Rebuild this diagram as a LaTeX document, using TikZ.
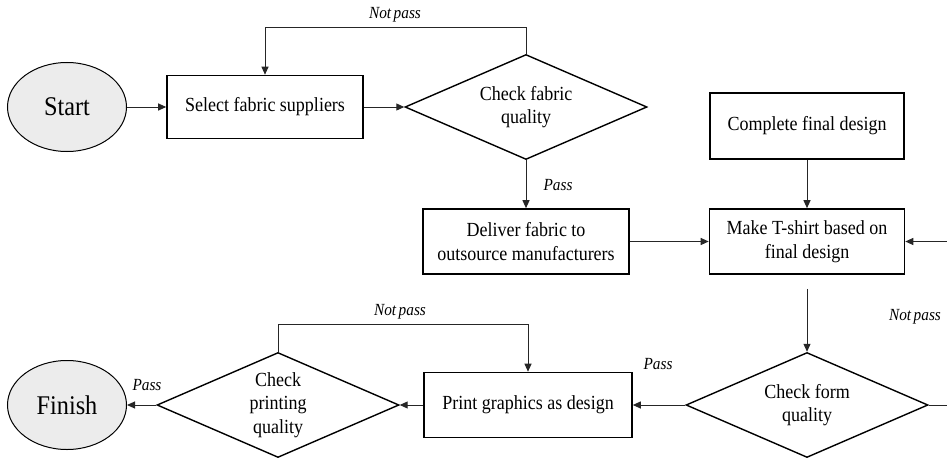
\documentclass[tikz,border=0pt]{standalone}
\usepackage{fontspec}
\setmainfont{Liberation Serif}
\newfontfamily\boxfont[FakeStretch=0.9]{Liberation Serif}
\usetikzlibrary{shapes.geometric,arrows.meta}
\begin{document}
\begin{tikzpicture}[x=1pt,y=-1pt,
  box/.style={draw, line width=1.6pt, inner sep=0pt, align=center, font=\boxfont\fontsize{20}{24}\selectfont},
  term/.style={ellipse, draw, line width=1pt, fill=gray!15, minimum width=119pt, minimum height=89pt, inner sep=0pt, font=\boxfont\fontsize{27}{30}\selectfont},
  dec/.style={diamond, draw, line width=1.4pt, aspect=2.3, minimum width=242pt, minimum height=105pt, inner sep=0pt, align=center, font=\boxfont\fontsize{20}{23.5}\selectfont},
  conn/.style={draw=black!85, line width=1pt, -{Triangle[length=8pt,width=7pt]}},
  lbl/.style={font=\boxfont\fontsize{17}{19}\selectfont\itshape, inner sep=0pt}]
\useasboundingbox (0,0) rectangle (947,460);
\clip (0,0) rectangle (947,460);

\node[term] (start) at (67,107) {Start};
\node[box, minimum width=196pt, minimum height=63pt] (select) at (265,107) {Select fabric suppliers};
\node[dec] (fab) at (526,107) {Check fabric\\quality};
\node[box, minimum width=206pt, minimum height=65pt] (deliver) at (526,241.5) {Deliver fabric to\\outsource manufacturers};
\node[box, minimum width=194pt, minimum height=66pt] (design) at (807,126) {Complete final design};
\node[box, minimum width=195pt, minimum height=65pt] (make) at (807,241.5) {Make T-shirt based on\\final design};
\node[dec] (form) at (807,405) {Check form\\quality};
\node[box, minimum width=208pt, minimum height=65pt] (print) at (528,405) {Print graphics as design};
\node[dec] (pq) at (278,405) {Check\\printing\\quality};
\node[term] (finish) at (67,405) {Finish};

\draw[conn] (start) -- (select);
\draw[conn] (select) -- (fab);
\draw[conn] (fab.north) -- ++(0,-26) -| (select.north);
\draw[conn] (fab.south) -- (deliver.north);
\draw[conn] (deliver) -- (make);
\draw[conn] (design) -- (make);
\draw[conn, shorten <=14pt] (make) -- (form);
\draw[conn] (form) -- (print);
\draw[conn] (print) -- (pq);
\draw[conn] (pq) -- (finish);
\draw[conn] (pq.north) -- ++(0,-27) -| (print.north);
\coordinate (rloop) at (965,320);
\draw[conn] (form.east) -| (rloop) |- (make.east);

\node[lbl] (np1) at (395,15) {Not\hspace{0.15em}pass};
\node[lbl] (p1) at (558,185) {Pass};
\node[lbl] (np2) at (915,317) {Not\hspace{0.15em}pass};
\node[lbl] (p2) at (658,364) {Pass};
\node[lbl] (np3) at (400,312) {Not\hspace{0.15em}pass};
\node[lbl] (p3) at (147,385) {Pass};
\end{tikzpicture}
\end{document}
